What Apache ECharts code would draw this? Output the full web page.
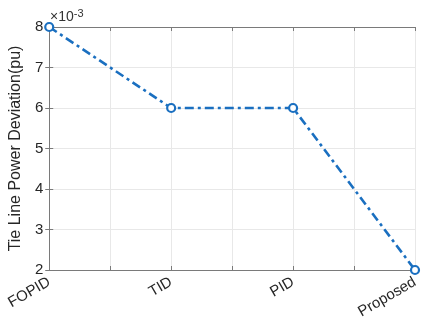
<!DOCTYPE html>
<html><head><meta charset="utf-8">
<script src="https://cdn.jsdelivr.net/npm/echarts@6/dist/echarts.min.js"></script>
<style>html,body{margin:0;padding:0;background:#fff}#c{width:422px;height:322px}</style>
</head><body><div id="c"></div>
<script>
var categories = ['FOPID', 'TID', 'PID', 'Proposed'];
var deviationE3 = [8, 6, 6, 2]; // Tie line power deviation, units of 1e-3 pu
var yTicks = [2, 3, 4, 5, 6, 7, 8];

var chart = echarts.init(document.getElementById('c'));
var data = categories.map(function (c, i) { return [i, deviationE3[i]]; });
var axisCol = '#7a7a7a';
var gridCol = '#e8e8e8';
var font = 'Liberation Sans, Arial, sans-serif';
chart.setOption({
  animation: false,
  backgroundColor: '#fff',
  title: {
    text: '×10{s|-3}', left: 45, top: 3,
    textStyle: { fontSize: 14, fontWeight: 'normal', color: '#333', fontFamily: font,
      rich: { s: { fontSize: 11, verticalAlign: 'top', padding: [0, 0, 8, 0], color: '#333', fontFamily: font } } }
  },
  grid: { left: 44, right: 7, top: 27, bottom: 52 },
  xAxis: [{
    type: 'value', min: 0, max: categories.length - 1, interval: 0.5,
    axisLine: { lineStyle: { color: axisCol, width: 1 } },
    axisTick: { inside: true, length: 4, lineStyle: { color: axisCol } },
    splitLine: { show: true, lineStyle: { color: gridCol } },
    axisLabel: {
      rotate: 30, fontSize: 15, color: '#262626', fontFamily: font, margin: 11,
      formatter: function (v) { return Number.isInteger(v) ? categories[v] : ''; }
    }
  }, {
    type: 'value', position: 'top', min: 0, max: categories.length - 1, interval: 0.5,
    axisLine: { show: true, lineStyle: { color: axisCol } },
    axisTick: { inside: true, length: 4, lineStyle: { color: axisCol } },
    axisLabel: { show: false }, splitLine: { show: false }
  }],
  yAxis: [{
    type: 'value', min: yTicks[0], max: yTicks[yTicks.length - 1], interval: 1,
    name: 'Tie Line Power Deviation(pu)', nameLocation: 'middle', nameGap: 21,
    nameTextStyle: { fontSize: 16, color: '#262626', fontFamily: font },
    axisLine: { show: true, lineStyle: { color: axisCol } },
    axisTick: { show: true, inside: true, length: 4, lineStyle: { color: axisCol } },
    splitLine: { show: true, lineStyle: { color: gridCol } },
    axisLabel: { fontSize: 15, color: '#262626', fontFamily: font, margin: 6 }
  }, {
    type: 'value', position: 'right', min: yTicks[0], max: yTicks[yTicks.length - 1], interval: 1,
    axisLine: { show: true, lineStyle: { color: axisCol } },
    axisTick: { show: true, inside: true, length: 4, lineStyle: { color: axisCol } },
    axisLabel: { show: false }, splitLine: { show: false }
  }],
  series: [{
    type: 'line', data: data, xAxisIndex: 0, yAxisIndex: 0,
    symbol: 'circle', symbolSize: 8,
    lineStyle: { color: '#1a6fc0', width: 2.6, type: [9, 4, 3, 4] },
    itemStyle: { color: '#fff', borderColor: '#1a6fc0', borderWidth: 2.2 },
    clip: false
  }]
});
</script></body></html>
